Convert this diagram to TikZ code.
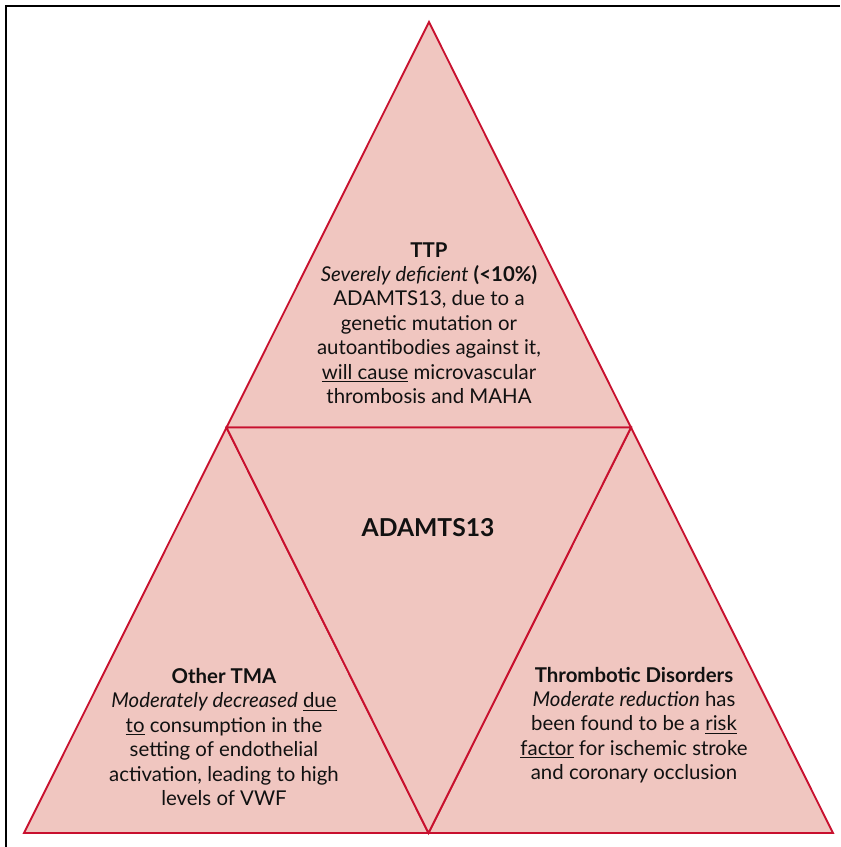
\documentclass[tikz,border=0pt]{standalone}
\usepackage{fontspec}
\setmainfont{Lato}
\usepackage{xcolor}
\usetikzlibrary{calc}
\definecolor{tmared}{HTML}{C8102E}
\definecolor{tmapink}{HTML}{F0C6C0}
\definecolor{tmatext}{HTML}{111111}

\begin{document}
\begin{tikzpicture}[x=0.75pt,y=-0.75pt,line join=miter,
    blurb/.style={align=center,text=tmatext,inner sep=0pt,
      font=\fontsize{15.3}{18.3}\selectfont}]
        \useasboundingbox (0,0) rectangle (840,847);
        % draw the frame
        \draw[line width=1.6pt] (6,847) -- (6,6) -- (840,6);
        % corners of the big triangle
        \coordinate (apex) at (429,22);
        \coordinate (bl) at (24,833);
        \coordinate (br) at (833,833);
        % midpoints of the sides
        \coordinate (ml) at ($(apex)!0.5!(bl)$);
        \coordinate (mr) at ($(apex)!0.5!(br)$);
        \coordinate (mb) at ($(bl)!0.5!(br)$);
        % draw the four small triangles
        \foreach \a/\b/\c in {apex/ml/mr, ml/bl/mb, mr/mb/br, ml/mr/mb}
                \filldraw[fill=tmapink,draw=tmared,line width=1.4pt]
                        (\a) -- (\b) -- (\c) -- cycle;
        % text in each triangle
        \node[blurb] (ttp) at (429,323) {\textbf{TTP}\\
                \textit{Severely deficient} \textbf{(<10\%)}\\
                ADAMTS13, due to a\\
                genetic mutation or\\
                autoantibodies against it,\\
                \underline{will cause} microvascular\\
                thrombosis and MAHA};
        \node[blurb,font=\bfseries\fontsize{18.5}{22}\selectfont] (core) at (428,528) {ADAMTS13};
        \node[blurb] (othertma) at (224,737) {\textbf{Other TMA}\\
                \textit{Moderately decreased} \underline{due}\\
                \underline{to} consumption in the\\
                setting of endothelial\\
                activation, leading to high\\
                levels of VWF};
        \node[blurb] (thrombotic) at (634,725) {\textbf{Thrombotic Disorders}\\
                \textit{Moderate reduction} has\\
                been found to be a \underline{risk}\\
                \underline{factor} for ischemic stroke\\
                and coronary occlusion};
\end{tikzpicture}
\end{document}
